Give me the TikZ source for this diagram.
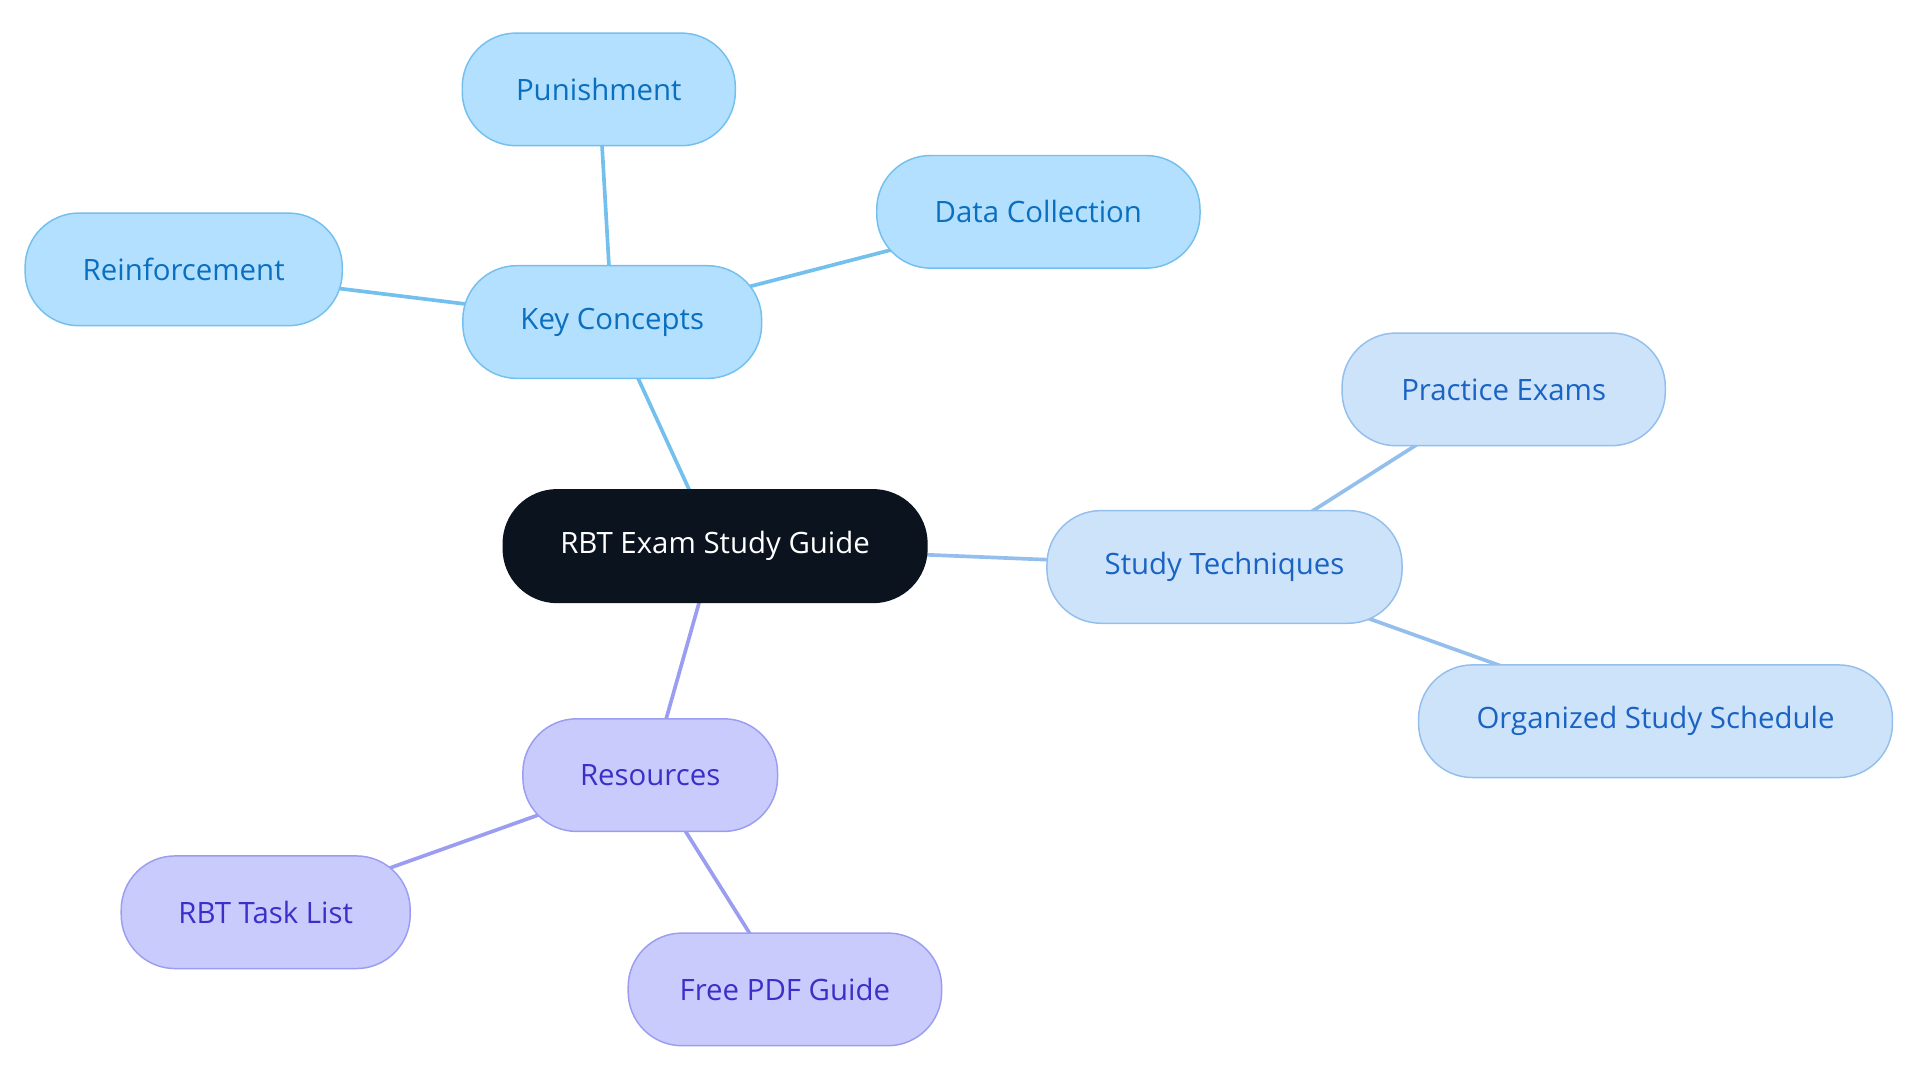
\documentclass[tikz,border=0pt]{standalone}
\usepackage{fontspec}
\setmainfont{Open Sans}
\usetikzlibrary{backgrounds}
\definecolor{kcF}{HTML}{B3E0FF}\definecolor{kcD}{HTML}{73C0EE}\definecolor{kcT}{HTML}{0B6FBF}
\definecolor{stF}{HTML}{CCE3FA}\definecolor{stD}{HTML}{94BFEC}\definecolor{stT}{HTML}{1A63C4}
\definecolor{reF}{HTML}{C9CBFD}\definecolor{reD}{HTML}{9B9DF0}\definecolor{reT}{HTML}{3A30C8}
\definecolor{ctr}{HTML}{0B131E}
\tikzset{
 box/.style={rounded corners=44pt,minimum height=92pt,line width=1.2pt,font=\fontsize{24}{28}\selectfont,inner sep=0pt},
 kc/.style={box,fill=kcF,draw=kcD,text=kcT},
 st/.style={box,fill=stF,draw=stD,text=stT},
 rs/.style={box,fill=reF,draw=reD,text=reT},
 ln/.style={line width=3pt}
}
\begin{document}
\begin{tikzpicture}[x=1pt,y=-1pt]
\useasboundingbox (0,0) rectangle (1568,885);
\node[box,fill=ctr,draw=ctr,text=white,minimum width=346pt] (c) at (584,446) {RBT Exam Study Guide};
\node[kc,minimum width=244pt] (kc) at (500,263) {Key Concepts};
\node[kc,minimum width=223pt] (pu) at (489,73) {Punishment};
\node[kc,minimum width=264pt] (dc) at (848,173) {Data Collection};
\node[kc,minimum width=259pt] (rf) at (150,220) {Reinforcement};
\node[st,minimum width=290pt] (st) at (1000,463) {Study Techniques};
\node[st,minimum width=264pt] (pe) at (1228,318) {Practice Exams};
\node[st,minimum width=387pt] (os) at (1352,589) {Organized Study Schedule};
\node[rs,minimum width=208pt] (rs) at (531,633) {Resources};
\node[rs,minimum width=236pt] (tl) at (217,745) {RBT Task List};
\node[rs,minimum width=256pt] (fp) at (641,808) {Free PDF Guide};
\begin{scope}[on background layer]
\draw[ln,kcD] (c.center) -- (kc.center);
\draw[ln,kcD] (kc.center) -- (pu.center);
\draw[ln,kcD] (kc.center) -- (dc.center);
\draw[ln,kcD] (kc.center) -- (rf.center);
\draw[ln,stD] (c.center) -- (st.center);
\draw[ln,stD] (st.center) -- (pe.center);
\draw[ln,stD] (st.center) -- (os.center);
\draw[ln,reD] (c.center) -- (rs.center);
\draw[ln,reD] (rs.center) -- (tl.center);
\draw[ln,reD] (rs.center) -- (fp.center);
\end{scope}
\end{tikzpicture}
\end{document}
